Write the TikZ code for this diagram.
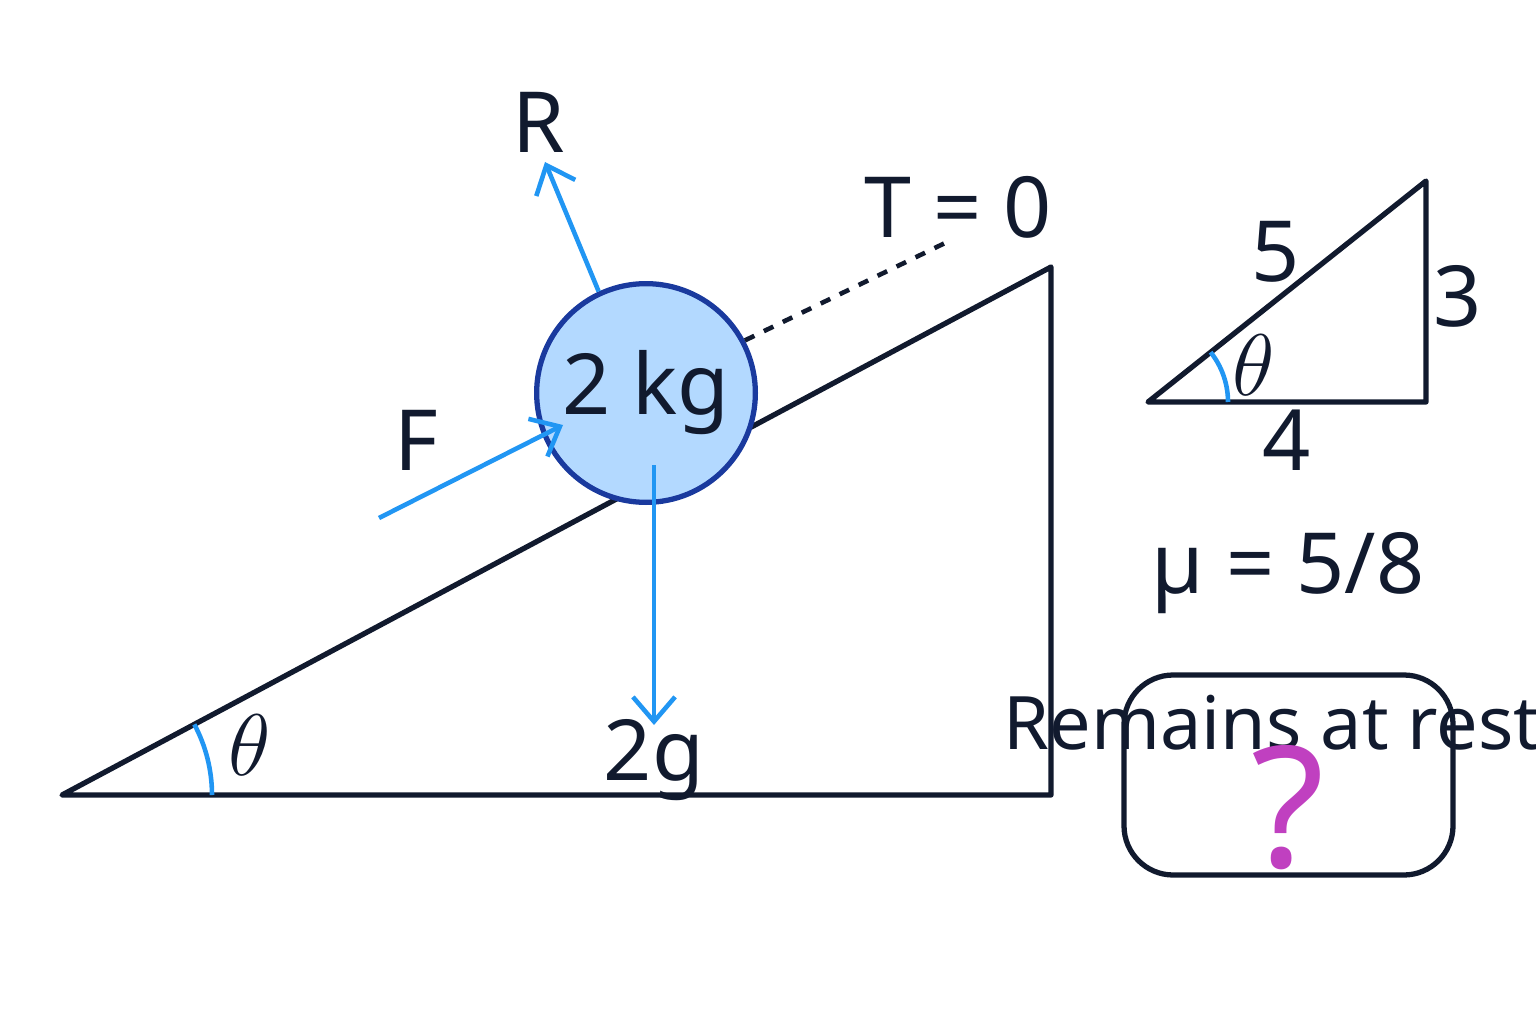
\documentclass[tikz,border=0pt]{standalone}
\usepackage{fontspec}
\setmainfont{Noto Sans}
\usetikzlibrary{arrows.meta, calc}
\definecolor{ink}{HTML}{111A2E}
\definecolor{forceblue}{HTML}{2196F3}
\definecolor{ballfill}{HTML}{B3D9FF}
\definecolor{balledge}{HTML}{1A3A9E}
\definecolor{quest}{HTML}{C040C0}
\tikzset{
	force/.style = {forceblue, line width = 1.3pt, -{Straight Barb[length = 7pt, width = 12pt]}},
	edge/.style = {ink, line width = 1.5pt, line join = round},
	lbl/.style = {font = \fontsize{24}{28}\selectfont, text = ink}
}
\begin{document}
\begin{tikzpicture}[> = latex]

	\useasboundingbox (0, 0) rectangle (15.36, 10.24);

	% Incline
	
	\coordinate (A) at (0.62, 2.29);
	\coordinate (B) at (10.51, 2.29);
	\coordinate (C) at (10.51, 7.57);
	\draw [edge] (A) -- (B) -- (C) -- cycle;
	\draw [forceblue, line width = 1.3pt] ($(A) + (1.5, 0)$) arc [start angle = 0, end angle = 28.1, radius = 1.5];
	\node [lbl] (theta) at (2.5, 2.79) {$\theta$};
	
	% Ball and forces
	
	\node [circle, draw = balledge, fill = ballfill, line width = 1.5pt, minimum size = 1.44cm, lbl] (ball) at (6.46, 6.31) {2 kg};
	\coordinate (Rtip) at (5.45, 8.62);
	\coordinate (Ftail) at (3.79, 5.06);
	\coordinate (Ftip) at (5.63, 5.99);
	\coordinate (Wtail) at (6.54, 5.59);
	\coordinate (Wtip) at (6.54, 2.99);
	\coordinate (Tend) at (9.45, 7.81);
	\draw [force] (ball.115) -- (Rtip);
	\draw [force] (Ftail) -- (Ftip);
	\draw [force] (Wtail) -- (Wtip);
	\draw [ink, line width = 1.3pt, dashed] (ball.28) -- (Tend);
	\node [lbl] (R) at (5.39, 9.02) {R};
	\node [lbl] (F) at (4.16, 5.84) {F};
	\node [lbl] (W) at (6.54, 2.64) {2g};
	\node [lbl] (T) at (9.58, 8.17) {T = 0};
	
	% Side triangle
	
	\coordinate (P) at (11.48, 6.22);
	\coordinate (Q) at (14.26, 6.22);
	\coordinate (S) at (14.26, 8.43);
	\draw [edge] (P) -- (Q) -- (S) -- cycle;
	\draw [forceblue, line width = 1.3pt] ($(P) + (0.8, 0)$) arc [start angle = 0, end angle = 38.5, radius = 0.8];
	\node [lbl] (hyp) at (12.76, 7.72) {5};
	\node [lbl] (opp) at (14.58, 7.28) {3};
	\node [lbl] (adj) at (12.87, 5.84) {4};
	\node [lbl] (ang) at (12.54, 6.59) {$\theta$};
	\node [lbl] (mu) at (12.88, 4.51) {µ = 5/8};
	
	% Question box
	
	\node [edge, draw, rounded corners = 14pt, minimum width = 3.29cm, minimum height = 2.0cm] (box) at (12.885, 2.49) {};
	\node [lbl, font = \fontsize{21}{25}\selectfont] (rest) at (12.88, 3.01) {Remains at rest?};
	\node [text = quest, font = \fontsize{48}{52}\selectfont\bfseries] (q) at (12.88, 2.16) {?};
	
\end{tikzpicture}
\end{document}
